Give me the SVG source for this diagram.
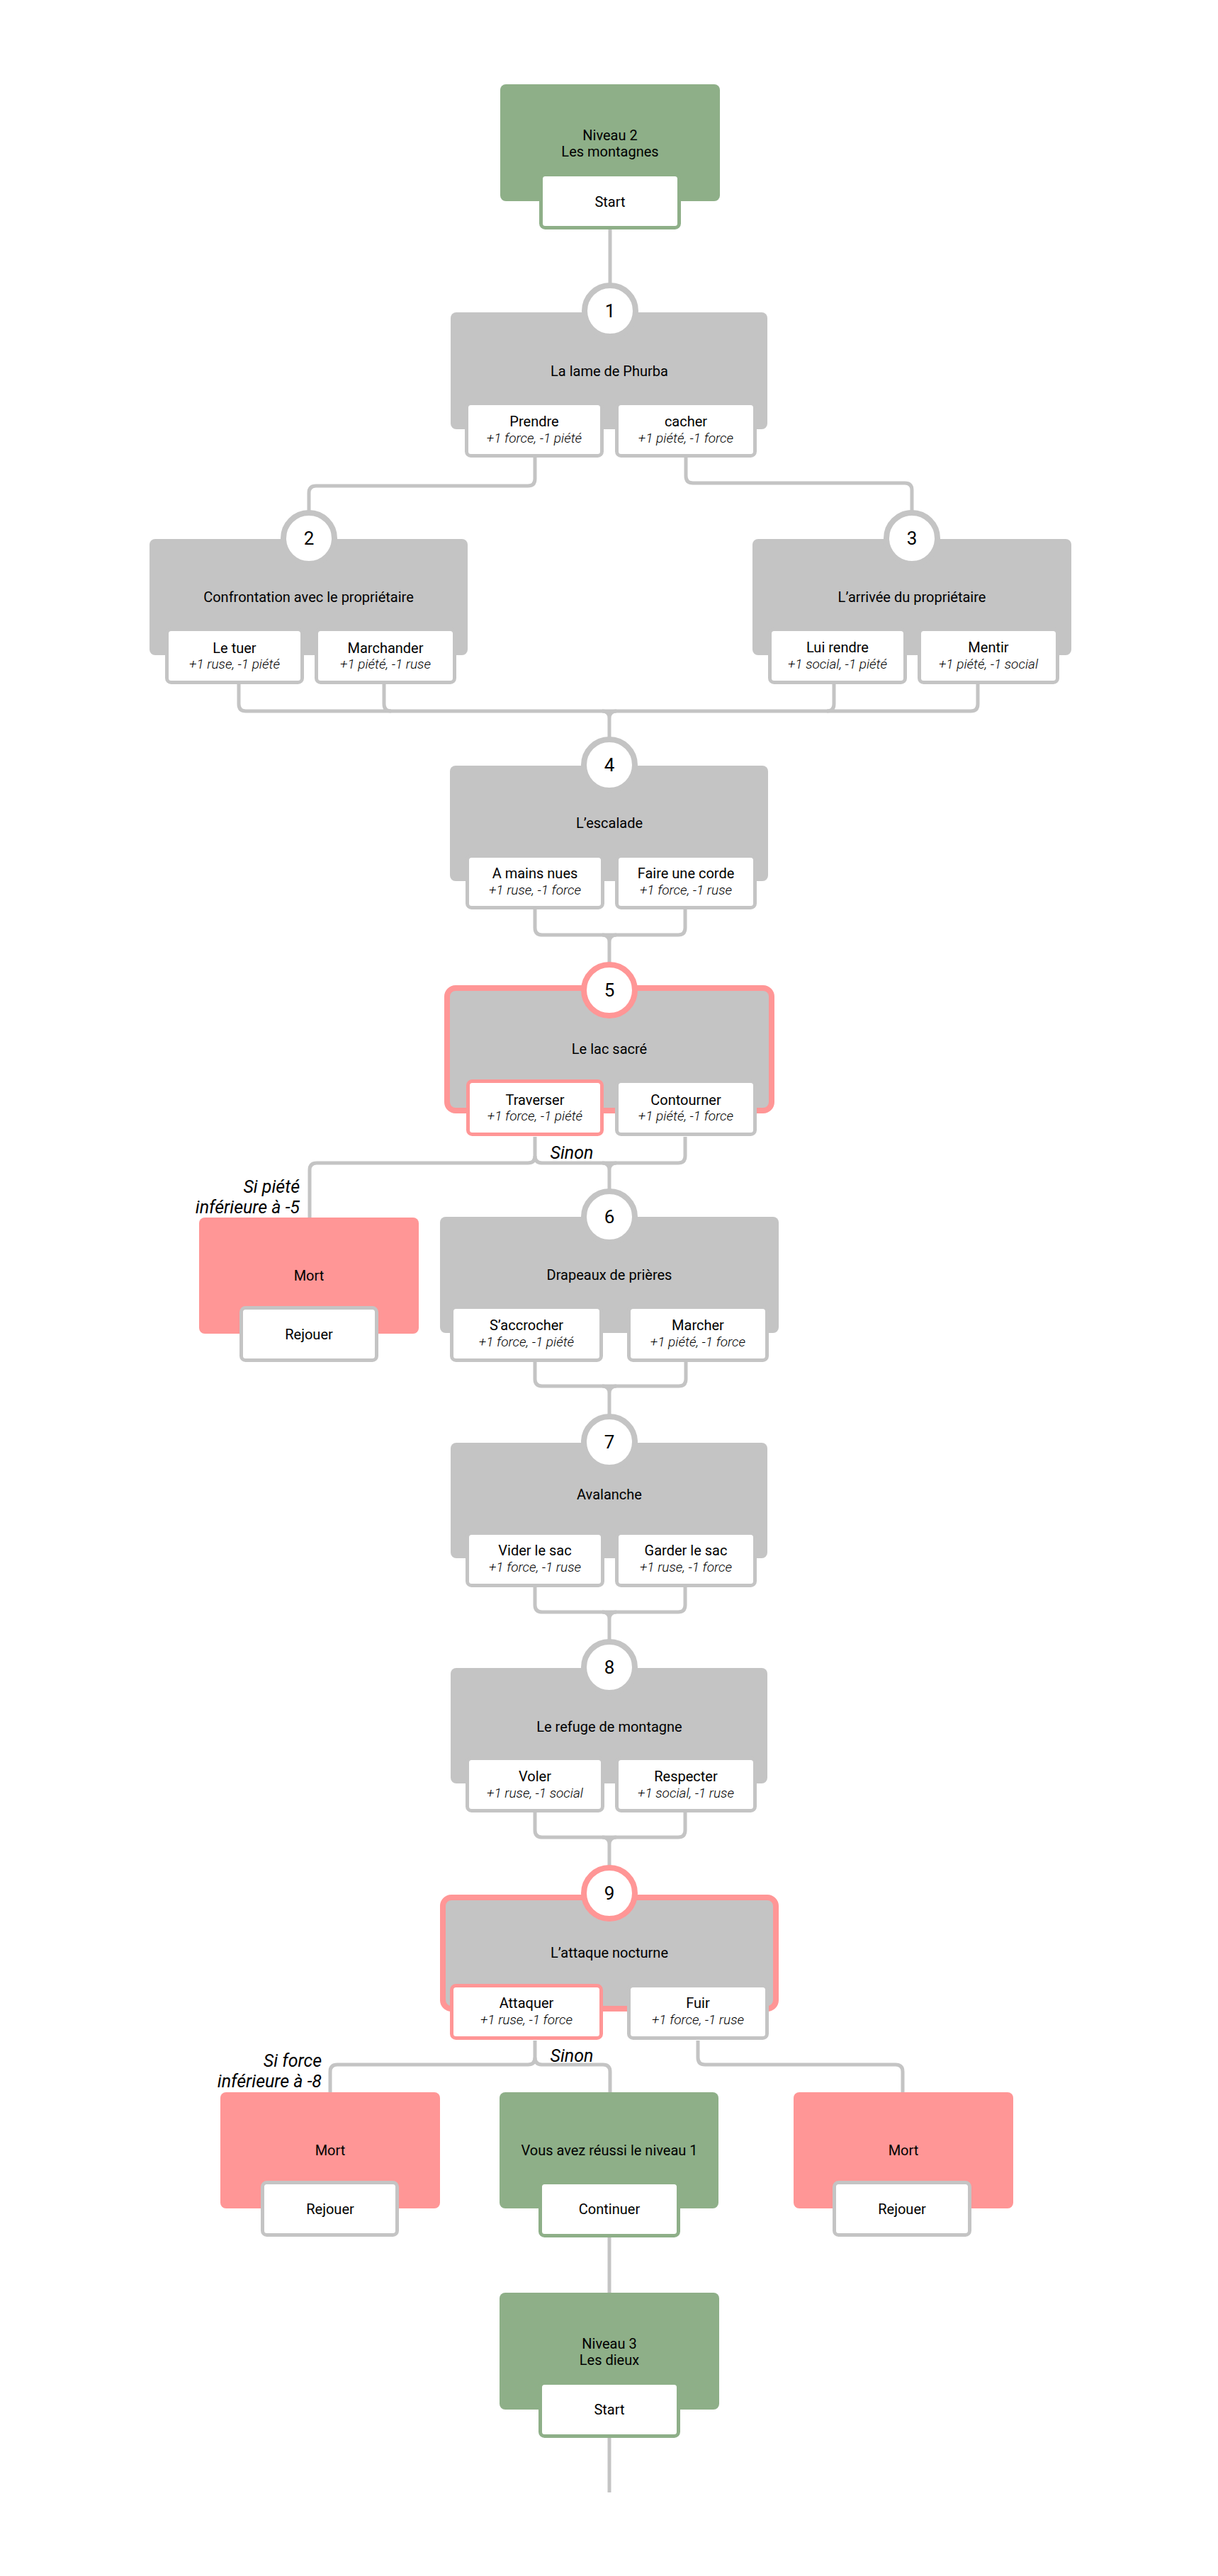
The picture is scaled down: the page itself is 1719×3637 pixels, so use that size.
<svg xmlns="http://www.w3.org/2000/svg" width="1719" height="3637" viewBox="0 0 1719 3637">
<style>
text{font-family:Roboto,"Liberation Sans",sans-serif;fill:#000}
.box{fill:#C4C4C4}
.boxp{fill:#C4C4C4;stroke:#FF9696;stroke-width:8}
.green{fill:#8EAF88}
.dead{fill:#FF9696}
.ch{fill:#fff;stroke:#C4C4C4;stroke-width:5}
.chp{fill:#fff;stroke:#FF9696;stroke-width:5}
.chg{fill:#fff;stroke:#8EAF88;stroke-width:5}
.conn path{fill:none;stroke:#C4C4C4;stroke-width:5}
.num{fill:#fff;stroke:#C4C4C4;stroke-width:8}
.nump{fill:#fff;stroke:#FF9696;stroke-width:8}
.t{font-size:20px;text-anchor:middle}
.i{font-size:19px;font-style:italic;font-weight:300;text-anchor:middle}
.n{font-size:26px;text-anchor:middle}
.c{font-size:25px;font-style:italic}
.r{text-anchor:end}
.m{text-anchor:middle}
</style>
<rect width="1719" height="3637" fill="#fff"/>
<g id="connectors" class="conn">
<path d="M861,322 V401"/>
<path d="M755,645 V676 Q755,686 745,686 H446 Q436,686 436,696 V724"/>
<path d="M968,645 V672 Q968,682 978,682 H1277 Q1287,682 1287,692 V724"/>
<path d="M337,963 V994 Q337,1004 347,1004 H1370 Q1380,1004 1380,994 V963"/>
<path d="M542,963 V994 Q542,1004 552,1004"/>
<path d="M1177,963 V994 Q1177,1004 1167,1004"/>
<path d="M850,1004 Q860,1004 860,1014 V1042 M870,1004 Q860,1004 860,1014"/>
<path d="M755,1281 V1310 Q755,1320 765,1320 H957 Q967,1320 967,1310 V1281"/>
<path d="M850,1320 Q860,1320 860,1330 V1360 M870,1320 Q860,1320 860,1330"/>
<path d="M755,1605 V1632 Q755,1642 745,1642 H447 Q437,1642 437,1652 V1721"/>
<path d="M755,1632 Q755,1642 765,1642 H957 Q967,1642 967,1632 V1605"/>
<path d="M850,1642 Q860,1642 860,1652 V1680 M870,1642 Q860,1642 860,1652"/>
<path d="M755,1920 V1947 Q755,1957 765,1957 H958 Q968,1957 968,1947 V1920"/>
<path d="M850,1957 Q860,1957 860,1967 V1998 M870,1957 Q860,1957 860,1967"/>
<path d="M755,2238 V2266 Q755,2276 765,2276 H957 Q967,2276 967,2266 V2238"/>
<path d="M850,2276 Q860,2276 860,2286 V2316 M870,2276 Q860,2276 860,2286"/>
<path d="M755,2556 V2584 Q755,2594 765,2594 H957 Q967,2594 967,2584 V2556"/>
<path d="M850,2594 Q860,2594 860,2604 V2635 M870,2594 Q860,2594 860,2604"/>
<path d="M755,2881 V2905 Q755,2915 745,2915 H476 Q466,2915 466,2925 V2956"/>
<path d="M755,2905 Q755,2915 765,2915 H851 Q861,2915 861,2925 V2956"/>
<path d="M985,2881 V2905 Q985,2915 995,2915 H1264 Q1274,2915 1274,2925 V2956"/>
<path d="M860,3158 V3239"/>
<path d="M860,3442 V3519"/>
</g>
<g id="niveau2">
<rect class="green" x="706" y="119" width="310" height="165" rx="8"/>
<text class="t" x="861" y="198">Niveau 2</text>
<text class="t" x="861" y="221">Les montagnes</text>
<rect class="chg" x="763.5" y="246.5" width="195" height="75" rx="6"/>
<text class="t" x="861" y="292">Start</text>
</g>
<g id="node1">
<rect class="box" x="636" y="441" width="447" height="165" rx="8"/>
<circle class="num" cx="861" cy="439" r="36"/>
<text class="n" x="861" y="448">1</text>
<text class="t" x="860" y="531">La lame de Phurba</text>
<rect class="ch" x="658.5" y="569.5" width="191" height="74" rx="6"/>
<text class="t" x="754" y="602">Prendre</text>
<text class="i" x="754" y="625">+1 force, -1 piété</text>
<rect class="ch" x="870.5" y="569.5" width="195" height="74" rx="6"/>
<text class="t" x="968" y="602">cacher</text>
<text class="i" x="968" y="625">+1 piété, -1 force</text>
</g>
<g id="node2">
<rect class="box" x="211" y="761" width="449" height="164" rx="8"/>
<circle class="num" cx="436" cy="760" r="36"/>
<text class="n" x="436" y="769">2</text>
<text class="t" x="435.5" y="850">Confrontation avec le propriétaire</text>
<rect class="ch" x="235.5" y="888.5" width="191" height="75" rx="6"/>
<text class="t" x="331" y="922">Le tuer</text>
<text class="i" x="331" y="944">+1 ruse, -1 piété</text>
<rect class="ch" x="446.5" y="888.5" width="195" height="75" rx="6"/>
<text class="t" x="544" y="922">Marchander</text>
<text class="i" x="544" y="944">+1 piété, -1 ruse</text>
</g>
<g id="node3">
<rect class="box" x="1062" y="761" width="450" height="164" rx="8"/>
<circle class="num" cx="1287" cy="760" r="36"/>
<text class="n" x="1287" y="769">3</text>
<text class="t" x="1287" y="850">L’arrivée du propriétaire</text>
<rect class="ch" x="1086.5" y="888.5" width="191" height="75" rx="6"/>
<text class="t" x="1182" y="921">Lui rendre</text>
<text class="i" x="1182" y="944">+1 social, -1 piété</text>
<rect class="ch" x="1297.5" y="888.5" width="195" height="75" rx="6"/>
<text class="t" x="1395" y="921">Mentir</text>
<text class="i" x="1395" y="944">+1 piété, -1 social</text>
</g>
<g id="node4">
<rect class="box" x="635" y="1081" width="449" height="163" rx="8"/>
<circle class="num" cx="860" cy="1080" r="36"/>
<text class="n" x="860" y="1089">4</text>
<text class="t" x="860" y="1169">L’escalade</text>
<rect class="ch" x="659.5" y="1208.5" width="191" height="73" rx="6"/>
<text class="t" x="755" y="1240">A mains nues</text>
<text class="i" x="755" y="1263">+1 ruse, -1 force</text>
<rect class="ch" x="870.5" y="1208.5" width="195" height="73" rx="6"/>
<text class="t" x="968" y="1240">Faire une corde</text>
<text class="i" x="968" y="1263">+1 force, -1 ruse</text>
</g>
<g id="node5">
<rect class="boxp" x="631" y="1395" width="458" height="173" rx="12"/>
<circle class="nump" cx="860" cy="1398" r="36"/>
<text class="n" x="860" y="1407">5</text>
<text class="t" x="860" y="1488">Le lac sacré</text>
<rect class="chp" x="660.5" y="1526.5" width="189" height="75" rx="6"/>
<text class="t" x="755" y="1560">Traverser</text>
<text class="i" x="755" y="1582">+1 force, -1 piété</text>
<rect class="ch" x="870.5" y="1526.5" width="195" height="75" rx="6"/>
<text class="t" x="968" y="1560">Contourner</text>
<text class="i" x="968" y="1582">+1 piété, -1 force</text>
<text class="c m" x="807" y="1636">Sinon</text>
</g>
<g id="mort1">
<text class="c r" x="423" y="1684">Si piété</text>
<text class="c r" x="423" y="1713">inférieure à -5</text>
<rect class="dead" x="281" y="1719" width="310" height="164" rx="8"/>
<text class="t" x="436" y="1808">Mort</text>
<rect class="ch" x="340.5" y="1846.5" width="191" height="74" rx="6"/>
<text class="t" x="436" y="1891">Rejouer</text>
</g>
<g id="node6">
<rect class="box" x="621" y="1718" width="478" height="164" rx="8"/>
<circle class="num" cx="860" cy="1718" r="36"/>
<text class="n" x="860" y="1727">6</text>
<text class="t" x="860" y="1807">Drapeaux de prières</text>
<rect class="ch" x="637.5" y="1845.5" width="211" height="75" rx="6"/>
<text class="t" x="743" y="1878">S’accrocher</text>
<text class="i" x="743" y="1901">+1 force, -1 piété</text>
<rect class="ch" x="887.5" y="1845.5" width="195" height="75" rx="6"/>
<text class="t" x="985" y="1878">Marcher</text>
<text class="i" x="985" y="1901">+1 piété, -1 force</text>
</g>
<g id="node7">
<rect class="box" x="636" y="2037" width="447" height="163" rx="8"/>
<circle class="num" cx="860" cy="2036" r="36"/>
<text class="n" x="860" y="2045">7</text>
<text class="t" x="860" y="2117">Avalanche</text>
<rect class="ch" x="659.5" y="2164.5" width="191" height="74" rx="6"/>
<text class="t" x="755" y="2196">Vider le sac</text>
<text class="i" x="755" y="2219">+1 force, -1 ruse</text>
<rect class="ch" x="870.5" y="2164.5" width="195" height="74" rx="6"/>
<text class="t" x="968" y="2196">Garder le sac</text>
<text class="i" x="968" y="2219">+1 ruse, -1 force</text>
</g>
<g id="node8">
<rect class="box" x="636" y="2355" width="447" height="163" rx="8"/>
<circle class="num" cx="860" cy="2354" r="36"/>
<text class="n" x="860" y="2363">8</text>
<text class="t" x="860" y="2445">Le refuge de montagne</text>
<rect class="ch" x="659.5" y="2482.5" width="191" height="74" rx="6"/>
<text class="t" x="755" y="2515">Voler</text>
<text class="i" x="755" y="2538">+1 ruse, -1 social</text>
<rect class="ch" x="870.5" y="2482.5" width="195" height="74" rx="6"/>
<text class="t" x="968" y="2515">Respecter</text>
<text class="i" x="968" y="2538">+1 social, -1 ruse</text>
</g>
<g id="node9">
<rect class="boxp" x="625" y="2679" width="470" height="157" rx="12"/>
<circle class="nump" cx="860" cy="2673" r="36"/>
<text class="n" x="860" y="2682">9</text>
<text class="t" x="860" y="2764">L’attaque nocturne</text>
<rect class="chp" x="637.5" y="2803.5" width="211" height="74" rx="6"/>
<text class="t" x="743" y="2835">Attaquer</text>
<text class="i" x="743" y="2858">+1 ruse, -1 force</text>
<rect class="ch" x="887.5" y="2803.5" width="195" height="74" rx="6"/>
<text class="t" x="985" y="2835">Fuir</text>
<text class="i" x="985" y="2858">+1 force, -1 ruse</text>
<text class="c m" x="807" y="2911">Sinon</text>
</g>
<g id="mort2">
<text class="c r" x="454" y="2918">Si force</text>
<text class="c r" x="454" y="2947">inférieure à -8</text>
<rect class="dead" x="311" y="2954" width="310" height="164" rx="8"/>
<text class="t" x="466" y="3043">Mort</text>
<rect class="ch" x="370.5" y="3081.5" width="190" height="74" rx="6"/>
<text class="t" x="466" y="3126">Rejouer</text>
</g>
<g id="reussi">
<rect class="green" x="705" y="2954" width="309" height="164" rx="8"/>
<text class="t" x="860" y="3043">Vous avez réussi le niveau 1</text>
<rect class="chg" x="762.5" y="3081.5" width="195" height="75" rx="6"/>
<text class="t" x="860" y="3126">Continuer</text>
</g>
<g id="mort3">
<rect class="dead" x="1120" y="2954" width="310" height="164" rx="8"/>
<text class="t" x="1275" y="3043">Mort</text>
<rect class="ch" x="1177.5" y="3081.5" width="191" height="74" rx="6"/>
<text class="t" x="1273" y="3126">Rejouer</text>
</g>
<g id="niveau3">
<rect class="green" x="705" y="3237" width="310" height="165" rx="8"/>
<text class="t" x="860" y="3316">Niveau 3</text>
<text class="t" x="860" y="3339">Les dieux</text>
<rect class="chg" x="762.5" y="3364.5" width="195" height="75" rx="6"/>
<text class="t" x="860" y="3409">Start</text>
</g>
</svg>
